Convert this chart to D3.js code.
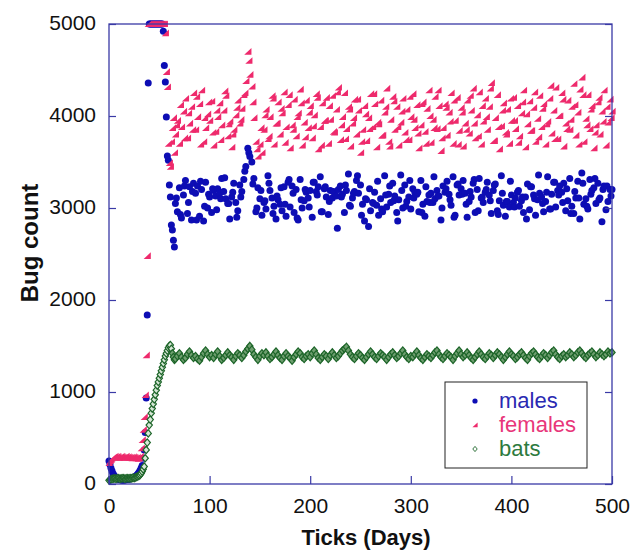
<!DOCTYPE html>
<html><head><meta charset="utf-8">
<script src="https://cdn.jsdelivr.net/npm/d3@7"></script>
<style>html,body{margin:0;padding:0;background:#fff;}svg{display:block;}</style>
</head><body>
<script>
// Early phase: one value per day, days 0..65
// Late phase: one value every 2 days, days 66, 68, ..., 500
// Extra samples: days 67, 71, 75, ..., 499
const lateStart = 66, lateStep = 2, extraStart = 67, extraStep = 4;

const malesEarly = [
250,210,170,140,115,95,80,70,60,55,50,45,45,40,40,40,45,45,50,50,
55,55,60,65,70,75,80,90,100,115,130,150,175,200,280,370,560,935,1837,4360,
5000,5000,5000,5000,5000,5000,5000,5000,5000,5000,5000,5000,5000,5000,4920,4550,4370,3990,3565,3520,
3250,3120,2815,2760,2650,2575
];
const malesLate = [
3050,2960,3220,2890,3140,3300,2940,3230,2870,3270,3160,3240,2910,3200,2860,3280,3000,3120,2950,3190,
3130,3210,3160,3320,3180,3100,3050,2880,3120,3270,3060,2970,3250,3180,3310,3450,3650,3560,3500,3320,
2960,3220,3100,2920,3060,2990,3350,3190,3110,3020,2880,3090,3040,2970,3230,2910,3280,3010,3240,2950,
3200,2870,3310,3000,3080,3170,3110,3190,2900,3280,3180,3230,3340,2960,3210,3120,2930,3190,3110,3170,
3130,3200,3240,3150,2950,3190,3370,3020,3110,3180,3300,3160,3250,3040,2860,3090,2800,2970,3060,3170,
3030,2920,3100,2960,3350,3010,3150,3060,3270,3130,2950,3090,3360,3000,3250,3070,3120,2990,3210,3170,
3150,2960,3300,3040,2910,3070,3140,3160,3060,3100,3190,3130,2870,3240,3170,3290,3150,3030,3340,2920,
3250,3140,3210,3300,3160,2900,3070,3120,3270,2950,3200,3320,3110,3060,3170,3280,3140,2940,3190,3260,
2970,3080,3350,3030,2910,3070,3010,3140,3060,3110,3170,3020,3080,2950,3120,3260,2980,3230,3140,2920,
3090,3160,3120,2960,3070,3340,2990,3150,3280,3010,3190,3240,3170,3270,2970,3080,3320,3020,2940,3110,
3290,2880,3380,3040,3100,2990,3310,3190,3220,3050,3270,3110,2850,3240,2980,3070,3200,3200
];
const malesExtra = [
3110,2930,3240,3060,3180,2870,3290,3020,3150,3210,2980,3100,3330,3050,3170,2900,3120,3400,3600,3260,
3000,3190,3080,3270,2940,3130,3220,3040,3310,3160,2890,3090,3200,3010,3280,3140,2960,3230,3070,3180,
2780,3120,3250,3030,3160,3350,2920,3100,3210,3050,3290,2990,3140,3240,3080,2860,3190,3020,3300,3110,
3170,2950,3230,3060,3340,3130,3000,3210,3090,2900,3260,3150,3040,3180,3310,2970,3120,3200,3080,3250,
2930,3160,3070,3290,3010,3190,3120,2880,3230,3100,3360,3050,3170,2990,3280,3140,3060,3210,2940,3180,
3110,3270,3020,3150,3320,3090,3200,3240,3130
];

const femalesEarly = [
230,250,265,280,290,295,300,290,300,295,285,290,300,295,290,285,295,300,290,295,
290,285,290,280,295,290,285,280,290,275,280,300,390,480,590,730,967,1400,2480,5000,
5000,5000,5000,5000,5000,5000,5000,5000,5000,5000,5000,5000,5000,5000,5000,5000,4900,4480,4315,3700,
3490,3450,3720,3870,3980,3600
];
const femalesLate = [
3800,3950,3700,3880,4050,4190,3760,3920,4100,4250,3850,3990,4130,4280,3720,3870,4020,3950,4160,3680,
3830,3990,4140,3900,4060,4220,3780,3940,3660,3850,4010,4170,3920,4080,4230,4380,4700,4450,4320,3980,
3720,3560,3690,3600,3850,4070,3750,3990,4220,3690,3920,4150,3800,4030,4260,3880,4120,3650,3900,4180,
3780,4030,4290,3680,3930,4170,3870,4110,3760,4010,4240,3640,3880,4140,3950,4200,3700,3960,4220,3820,
4070,4310,3740,3990,4250,3860,4100,3670,3920,4180,3800,4060,3600,3850,4110,3730,3980,4240,3880,4130,
3660,3910,4170,3790,4040,4300,3720,3960,4210,3850,4100,3680,3930,4190,3820,4070,3740,3990,4240,3870,
4120,3650,3900,4150,3830,4080,4280,3710,3960,4210,3860,4110,3620,3870,4130,3790,4040,4250,3700,3950,
4200,3840,4090,3670,3920,4170,3810,4060,4300,3760,4010,4260,3690,3940,4190,3850,4100,4360,3730,3980,
4230,3640,3890,4140,3820,4070,3700,3950,4200,3860,4110,3780,4030,4280,3660,3910,4160,3840,4090,3720,
3970,4220,3880,4130,3690,3940,4190,3810,4060,4310,3750,4000,4250,3670,3920,4170,3850,4100,4350,3790,
4040,4290,4420,3720,3970,4230,3860,4110,3650,3900,4150,3800,4050,4280,3680,3930,4180,4050
];
const femalesExtra = [
3900,4120,3760,4030,3850,4210,3690,3980,4150,3820,4060,3740,4270,3910,3800,4090,3960,4250,4600,4150,
3640,3870,4010,3780,4190,3920,4080,3710,4230,3850,3990,4140,3770,4040,3890,4200,3680,3950,4110,3830,
4260,3900,3750,4070,3980,4180,3720,4020,3860,4240,3930,3790,4100,3670,4160,3880,4050,3740,4210,3960,
3810,4130,3700,4000,3870,4280,3760,4090,3940,4170,3690,4040,3850,4220,3920,3780,4110,3990,4300,3730,
3880,4060,3800,4190,3950,3710,4150,4020,3840,4260,3770,4080,3910,4330,3750,4000,4180,3860,3960,4120,
3690,4230,3900,4070,3820,4200,3940,4100,3980
];

const batsEarly = [
40,45,50,55,55,60,60,55,60,65,60,55,60,60,65,60,55,60,65,60,
60,65,60,65,70,65,70,75,80,85,90,100,115,135,160,190,280,370,450,550,
640,700,770,820,870,920,970,1020,1070,1110,1150,1190,1230,1270,1310,1350,1390,1420,1450,1480,
1500,1510,1470,1420,1380,1350
];
const batsLate = [
1360,1390,1420,1380,1350,1370,1410,1440,1400,1370,1390,1360,1340,1380,1420,1450,1410,1380,1400,1370,
1410,1440,1390,1350,1370,1400,1430,1400,1380,1350,1390,1420,1400,1370,1400,1440,1470,1500,1460,1410,
1380,1350,1390,1420,1400,1430,1390,1360,1380,1410,1440,1400,1370,1350,1390,1420,1390,1370,1340,1380,
1410,1440,1420,1380,1360,1390,1410,1380,1420,1450,1410,1370,1350,1380,1410,1390,1360,1400,1430,1400,
1370,1390,1420,1450,1470,1490,1450,1410,1380,1360,1390,1420,1400,1370,1350,1380,1410,1440,1410,1380,
1360,1390,1420,1400,1380,1350,1380,1410,1430,1400,1370,1390,1420,1450,1410,1380,1360,1390,1380,1410,
1440,1400,1370,1350,1380,1410,1390,1370,1400,1430,1450,1410,1380,1360,1390,1420,1400,1380,1350,1390,
1420,1450,1410,1380,1400,1430,1400,1370,1350,1380,1410,1440,1410,1380,1360,1390,1420,1400,1370,1400,
1430,1410,1380,1350,1380,1410,1440,1410,1390,1360,1380,1410,1430,1400,1370,1350,1390,1420,1440,1410,
1380,1360,1390,1420,1400,1370,1400,1430,1450,1410,1380,1360,1390,1410,1380,1400,1430,1410,1380,1400,
1430,1450,1420,1390,1370,1400,1420,1440,1410,1380,1400,1430,1410,1390,1410,1440,1420,1430
];
const xTicks = [0, 100, 200, 300, 400, 500];
const yTicks = [0, 1000, 2000, 3000, 4000, 5000];
const seriesNames = ["males", "females", "bats"];

function toPoints(early, late, extra) {
  const pts = early.map((v, i) => ({day: i, v}))
    .concat(late.map((v, i) => ({day: lateStart + lateStep * i, v})));
  if (extra) pts.push(...extra.map((v, i) => ({day: extraStart + extraStep * i, v})));
  return pts.sort((a, b) => a.day - b.day);
}
const males = toPoints(malesEarly, malesLate, malesExtra);
const females = toPoints(femalesEarly, femalesLate, femalesExtra);
const bats = toPoints(batsEarly, batsLate, null);

const W = 633, H = 550;
const svg = d3.select("body").append("svg").attr("width", W).attr("height", H);
const x = d3.scaleLinear().domain([0, 500]).range([109, 612]);
const y = d3.scaleLinear().domain([0, 5000]).range([484, 24]);
const axisColor = "#3a3aa6";
const font = "'Liberation Sans', Arial, sans-serif";

const cM = "#0d0db4", cF = "#ee2a6c", cB = "#1d6529";
const triPath = s => `M${-s},${s*0.85}L${s},${s*0.85}L${s},${-s}Z`;
const diaPath = s => `M0,${-s}L${s*0.85},0L0,${s}L${-s*0.85},0Z`;

svg.append("g").selectAll("circle").data(males).join("circle")
  .attr("cx", d => x(d.day)).attr("cy", d => y(d.v)).attr("r", 3.5).attr("fill", cM);
svg.append("g").selectAll("path").data(females).join("path")
  .attr("transform", d => `translate(${x(d.day)},${y(d.v)})`).attr("d", triPath(3.6)).attr("fill", cF);
svg.append("g").selectAll("path").data(bats).join("path")
  .attr("transform", d => `translate(${x(d.day)},${y(d.v)})`).attr("d", diaPath(3.7))
  .attr("fill", d => d.day > 62 ? "#6f9f70" : "#d8e8d8").attr("stroke", cB).attr("stroke-width", 1.2);

svg.append("rect").attr("x", x(0)).attr("y", y(5000)).attr("width", x(500) - x(0)).attr("height", y(0) - y(5000))
  .attr("fill", "none").attr("stroke", axisColor).attr("stroke-width", 1.3);

const fmt = d3.format("d");
const ax = svg.append("g").attr("transform", `translate(0,${y(0)})`)
  .call(d3.axisBottom(x).tickValues(xTicks).tickFormat(fmt).tickSizeInner(-8).tickSizeOuter(0).tickPadding(14));
const ay = svg.append("g").attr("transform", `translate(${x(0)},0)`)
  .call(d3.axisLeft(y).tickValues(yTicks).tickFormat(fmt).tickSizeInner(-7).tickSizeOuter(0).tickPadding(13));
const ar = svg.append("g").attr("transform", `translate(${x(500)},0)`)
  .call(d3.axisRight(y).tickValues(yTicks).tickSizeInner(-7).tickSizeOuter(0).tickFormat(""));
[ax, ay, ar].forEach(g => {
  g.select(".domain").remove();
  g.selectAll(".tick line").attr("stroke", axisColor).attr("stroke-width", 1.2);
  g.selectAll(".tick text").attr("fill", "#111").style("font-family", font).style("font-size", "21px");
});
ay.selectAll(".tick text").attr("dy", "0.25em");
ax.selectAll(".tick text").attr("dy", "0.72em");

svg.append("text").attr("x", 366).attr("y", 545).attr("text-anchor", "middle")
  .style("font-family", font).style("font-weight", "bold").style("font-size", "22px").attr("fill", "#111")
  .text("Ticks (Days)");
svg.append("text").attr("transform", "translate(38,243) rotate(-90)").attr("text-anchor", "middle")
  .style("font-family", font).style("font-weight", "bold").style("font-size", "24px").attr("fill", "#111")
  .text("Bug count");

const lg = svg.append("g");
lg.append("rect").attr("x", 445).attr("y", 382).attr("width", 142).attr("height", 86)
  .attr("fill", "#fff").attr("stroke", "#222").attr("stroke-width", 1);
const legendRows = [
  {name: seriesNames[0], color: "#2a2ab2", y: 401},
  {name: seriesNames[1], color: "#e8367a", y: 425},
  {name: seriesNames[2], color: "#2d7a3e", y: 449}
];
lg.append("circle").attr("cx", 475).attr("cy", legendRows[0].y).attr("r", 2.6).attr("fill", cM);
lg.append("path").attr("transform", `translate(475,${legendRows[1].y})`).attr("d", triPath(2.6)).attr("fill", cF);
lg.append("path").attr("transform", `translate(475,${legendRows[2].y})`).attr("d", diaPath(2.6))
  .attr("fill", "#fff").attr("stroke", cB).attr("stroke-width", 0.9);
lg.selectAll("text").data(legendRows).join("text")
  .attr("x", 499).attr("y", d => d.y + 7).attr("fill", d => d.color)
  .style("font-family", font).style("font-size", "22px").text(d => d.name);
</script>
</body></html>
